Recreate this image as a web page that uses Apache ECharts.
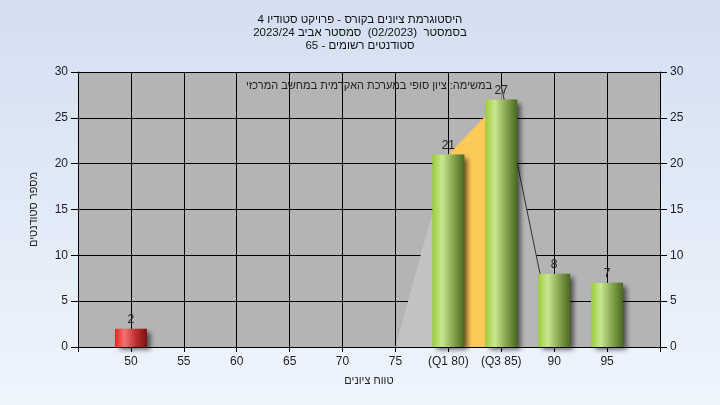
<!DOCTYPE html>
<html>
<head>
<meta charset="utf-8">
<script src="https://cdn.jsdelivr.net/npm/echarts@6/dist/echarts.min.js"></script>
<style>
  html, body { margin: 0; padding: 0; }
  #chart { width: 720px; height: 405px; }
</style>
</head>
<body>
<div id="chart"></div>
<script>
// Grade histogram: number of students per grade bucket
const gradeBuckets = [50, 80, 85, 90, 95];
const studentCounts = [2, 21, 27, 8, 7];
const failingLimit = 55; // buckets below this are drawn red

// Distribution outline drawn behind the bars (grade, count)
const lowerWhisker = [[75, 0], [80, 21]];
const interQuartile = [[80, 21], [85, 27]];
const upperWhisker = [[85, 28.5], [90, 0.5]];

// X-axis tick texts
const xTickText = { 45: '', 80: '(Q1 80)', 85: '(Q3 85)', 100: '' };

const titleLines = [
  'היסטוגרמת ציונים בקורס - פרויקט סטודיו 4',
  'בסמסטר  (02/2023)  סמסטר אביב 2023/24',
  'סטודנטים רשומים - 65'
];
const taskNote = 'במשימה: ציון סופי במערכת האקדמית במחשב המרכזי';
const xAxisTitle = 'טווח ציונים';
const yAxisTitle = 'מספר סטודנטים';

const FONT = '"Liberation Sans", Arial, "DejaVu Sans", sans-serif';
const TEXT = '#1b1b2f';
const HEB_SIZE = 11;

function barGradient(kind) {
  const stops = kind === 'red'
    ? [['#ff1c1c', 0], ['#f07272', 0.3], ['#c03030', 0.65], ['#7a1010', 1]]
    : [['#9ccc38', 0], ['#c9e690', 0.3], ['#86a650', 0.65], ['#4a6820', 1]];
  return new echarts.graphic.LinearGradient(0, 0, 1, 0,
    stops.map(s => ({ color: s[0], offset: s[1] })));
}

const barData = gradeBuckets.map((g, i) => ({
  value: [g, studentCounts[i]],
  itemStyle: { color: barGradient(g < failingLimit ? 'red' : 'green') }
}));

const yAxisCommon = {
  type: 'value', min: 0, max: 30, interval: 5,
  axisLine: { show: true, lineStyle: { color: '#000', width: 1 } },
  axisTick: { show: true, length: 7, lineStyle: { color: '#000' } },
  axisLabel: { color: TEXT, fontFamily: FONT, fontSize: 12, margin: 10 },
  splitLine: { show: false }
};

const chart = echarts.init(document.getElementById('chart'), null, { renderer: 'canvas' });
chart.setOption({
  animation: false,
  backgroundColor: new echarts.graphic.LinearGradient(0, 0, 0, 1, [
    { offset: 0, color: '#d3dff1' },
    { offset: 1, color: '#eff5fd' }
  ]),
  title: {
    text: titleLines.join('\n'),
    left: 'center', top: 8,
    textStyle: { fontFamily: FONT, fontSize: HEB_SIZE + 0.5, fontWeight: 'normal', color: '#111', lineHeight: 13 }
  },
  graphic: [{
    type: 'text', x: 369, y: 86, z: 10,
    style: {
      text: taskNote, align: 'center', verticalAlign: 'middle',
      font: HEB_SIZE + 'px ' + FONT, fill: '#222'
    }
  }],
  grid: { left: 78, right: 60, top: 72, bottom: 58, show: true, backgroundColor: '#b4b4b4', borderWidth: 0 },
  xAxis: {
    type: 'value', min: 45, max: 100, interval: 5,
    name: xAxisTitle, nameLocation: 'middle', nameGap: 28,
    nameTextStyle: { fontFamily: FONT, fontSize: HEB_SIZE, color: '#222' },
    axisLine: { show: true, onZero: false, lineStyle: { color: '#000' } },
    axisTick: { show: true, length: 5, lineStyle: { color: '#000' } },
    axisLabel: {
      color: TEXT, fontFamily: FONT, fontSize: 12, margin: 9,
      showMinLabel: true, showMaxLabel: true,
      formatter: v => (v in xTickText ? xTickText[v] : String(v))
    },
    splitLine: { show: true, lineStyle: { color: '#000', width: 1 } }
  },
  yAxis: [
    Object.assign({}, yAxisCommon, {
      position: 'left',
      name: yAxisTitle, nameLocation: 'middle', nameGap: 39, nameRotate: 90,
      nameTextStyle: { fontFamily: FONT, fontSize: HEB_SIZE, color: '#222' },
      splitLine: { show: true, lineStyle: { color: '#000', width: 1 } }
    }),
    Object.assign({}, yAxisCommon, { position: 'right' })
  ],
  series: [
    {
      type: 'line', data: lowerWhisker, symbol: 'none', z: 1,
      lineStyle: { width: 0 },
      areaStyle: { color: '#c2c2c2', opacity: 1 }
    },
    {
      type: 'line', data: interQuartile, symbol: 'none', z: 1,
      lineStyle: { width: 0 },
      areaStyle: { color: '#fdc958', opacity: 1 }
    },
    {
      type: 'line', data: upperWhisker, symbol: 'none', z: 1,
      lineStyle: { width: 1, color: '#333' },
      areaStyle: { color: '#b6b6b6', opacity: 1 }
    },
    {
      type: 'bar', data: barData, barWidth: 32, z: 3,
      itemStyle: {
        shadowColor: 'rgba(0,0,0,0.6)', shadowBlur: 5,
        shadowOffsetX: 4, shadowOffsetY: 3
      },
      label: {
        show: true, position: 'top', distance: 3,
        fontFamily: FONT, fontSize: 12, color: '#222',
        formatter: p => String(p.value[1])
      }
    }
  ]
});
</script>
</body>
</html>
